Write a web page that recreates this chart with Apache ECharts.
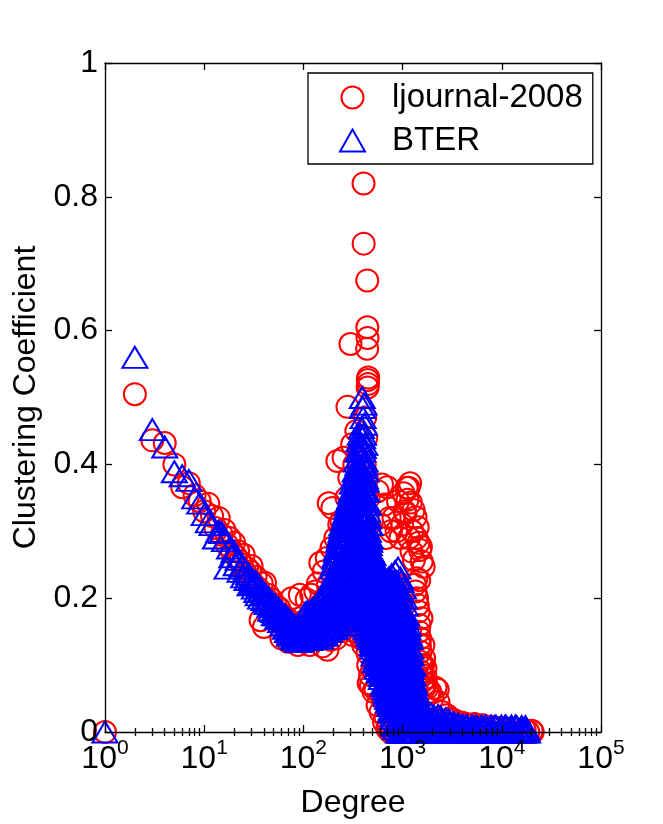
<!DOCTYPE html>
<html><head><meta charset="utf-8">
<script src="https://cdn.jsdelivr.net/npm/echarts@6/dist/echarts.min.js"></script>
<style>html,body{margin:0;padding:0;background:#fff}#c{width:663px;height:824px}</style>
</head><body><div id="c"></div>
<script>
// ---------------- data: [degree, clustering coefficient] ----------------
const ljLeft = [[1,0],[2,0.505],[3,0.436],[4,0.432],[5,0.4],[6,0.366],[7,0.372],[8,0.354],[9,0.345],[10,0.33],[11,0.341],[12,0.323],[13,0.305],[14,0.32],[15,0.295],[16,0.302],[17,0.28],[18,0.29],[19,0.27],[20,0.283],[21,0.262],[22,0.27],[23,0.255],[24,0.25],[25,0.265],[26,0.238],[27,0.245],[28,0.23],[29,0.24],[30,0.248],[31,0.222],[33,0.232],[35,0.215],[37,0.167],[38,0.222],[40,0.157],[41,0.223],[42,0.2],[44,0.205],[46,0.19],[48,0.198],[50,0.183],[52,0.19],[55,0.178],[57,0.185],[60,0.14],[62,0.175],[65,0.165],[68,0.17],[70,0.135],[73,0.16],[76,0.2],[80,0.15],[84,0.158],[88,0.13],[92,0.205],[96,0.148],[100,0.165]];
const ljRising = [[104,0.15],[108,0.198],[112,0.16],[116,0.13],[120,0.205],[124,0.17],[128,0.15],[132,0.21],[136,0.175],[140,0.222],[144,0.14],[148,0.253],[152,0.19],[156,0.128],[160,0.24],[164,0.2],[168,0.165],[172,0.26],[175,0.123],[176,0.22],[180,0.342],[184,0.185],[188,0.138],[190,0.15],[192,0.275],[196,0.335],[200,0.23],[205,0.165],[210,0.29],[215,0.14],[218,0.25],[220,0.405],[225,0.2],[230,0.31],[236,0.164],[242,0.315],[248,0.27],[250,0.16],[254,0.41],[260,0.22],[266,0.155],[272,0.35],[278,0.486],[280,0.17],[284,0.3],[290,0.38],[298,0.58],[300,0.152],[304,0.26],[310,0.43],[314,0.145],[318,0.33],[322,0.16],[326,0.4],[334,0.165],[340,0.17],[342,0.45],[350,0.148],[352,0.37],[366,0.42],[374,0.3],[380,0.14]];
const ljPeak = [[404,0.82],[405,0.73],[440,0.675],[441,0.605],[443,0.589],[439,0.573],[446,0.526],[448,0.52],[444,0.515],[450,0.53],[420,0.47],[430,0.44],[415,0.4],[435,0.38],[455,0.35],[460,0.3],[400,0.13],[423,0.148],[443,0.118],[455,0.073],[497,0.093],[534,0.063],[630,0.048],[673,0.022],[720,0.01],[790,0],[850,0],[940,0]];
const ljLowerEdge = [[430,0.135],[450,0.1],[470,0.085],[480,0.07],[510,0.06],[560,0.04],[600,0.03],[650,0.015],[700,0.005],[750,0]];
const ljShoulder = [[560,0.36],[600,0.31],[620,0.37],[660,0.34],[680,0.29],[700,0.366],[740,0.32],[760,0.3],[810,0.32],[870,0.3],[900,0.345],[950,0.29]];
const ljCluster = [[990,0.31],[1020,0.357],[1050,0.33],[1070,0.327],[1100,0.365],[1120,0.347],[1150,0.365],[1160,0.29],[1190,0.372],[1210,0.343],[1230,0.27],[1250,0.3],[1290,0.332],[1300,0.257],[1350,0.321],[1380,0.29],[1420,0.306],[1450,0.283],[1470,0.227],[1500,0.272],[1530,0.277],[1560,0.255],[1630,0.247]];
const ljRightEdge = [[1400,0.2],[1450,0.18],[1480,0.16],[1500,0.14],[1520,0.12],[1550,0.17],[1560,0.1],[1600,0.085],[1620,0.13],[1650,0.11],[1680,0.072],[1700,0.095],[1780,0.066],[1900,0.06],[2000,0.05],[2150,0.066],[2260,0.063],[2300,0.045],[1420,0.19],[1460,0.15],[1490,0.13],[1510,0.105],[1540,0.09],[1580,0.075],[1610,0.1],[1640,0.065],[1720,0.08],[1820,0.058],[1350,0.21],[1380,0.23],[1330,0.22]];
const ljTail = [[2500,0.03],[2800,0.025],[3000,0.02],[3300,0.018],[3600,0.015],[4000,0.014],[4400,0.012],[4800,0.01],[5300,0.012],[5800,0.008],[6400,0.01],[7000,0.006],[7700,0.008],[8500,0.004],[9400,0.006],[10400,0.002],[11500,0.005],[12700,0],[14000,0.004],[15500,0],[17000,0.003],[18500,0],[20000,0.002],[20500,0]];
const ljInterior = [[520,0.2],[570,0.15],[640,0.12],[720,0.17],[800,0.09],[880,0.14],[960,0.06],[1040,0.1],[1120,0.04],[1190,0.15],[1260,0.07],[1330,0.02],[450,0.25],[380,0.28],[330,0.22],[300,0.26],[260,0.19],[230,0.21],[1000,0.2],[850,0.22],[760,0.05],[600,0.18]];

const bterLeft = [[1,0],[2,0.56],[3,0.452],[4,0.426],[5,0.389],[6,0.383],[7,0.376],[8,0.35],[9,0.342],[10,0.325],[11,0.314],[12,0.31],[13,0.29],[14,0.3],[15,0.298],[16,0.286],[17,0.245],[18,0.275],[19,0.262],[20,0.27],[21,0.25],[22,0.258],[23,0.24],[24,0.248],[25,0.232],[26,0.24],[27,0.228],[28,0.236],[29,0.22],[30,0.23],[32,0.215],[33,0.225],[34,0.21],[36,0.218],[37,0.2],[38,0.212],[40,0.198],[41,0.207],[43,0.192],[44,0.2],[46,0.188],[48,0.195],[50,0.18],[52,0.19],[54,0.175],[56,0.185],[58,0.17],[60,0.18],[63,0.165],[65,0.175],[68,0.158],[70,0.17],[73,0.152],[75,0.165],[78,0.148],[80,0.16],[83,0.142],[86,0.155],[88,0.135],[90,0.15],[93,0.138],[96,0.152]];
const bterLeft2 = [[31,0.222],[35,0.205],[39,0.205],[42,0.195],[45,0.2],[47,0.182],[49,0.19],[51,0.175],[53,0.183],[55,0.17],[57,0.178],[59,0.165],[61,0.172],[62,0.16],[64,0.17],[66,0.155],[67,0.168],[69,0.15],[71,0.162],[72,0.145],[74,0.158],[76,0.145],[77,0.16],[79,0.14],[81,0.152],[82,0.138],[84,0.158],[85,0.145],[87,0.15],[89,0.14],[91,0.16],[92,0.142],[94,0.15],[95,0.136]];
const bterRising = [[97,0.145],[99,0.172],[101,0.158],[103,0.14],[105,0.178],[107,0.15],[109,0.165],[111,0.142],[113,0.175],[115,0.155],[118,0.18],[120,0.14],[122,0.165],[125,0.148],[128,0.182],[131,0.158],[134,0.142],[137,0.175],[140,0.188],[143,0.15],[146,0.168],[149,0.145],[152,0.192],[155,0.16],[158,0.178],[161,0.148],[164,0.2],[167,0.165],[170,0.185],[173,0.152],[176,0.21],[179,0.172],[182,0.195],[185,0.155],[188,0.22],[191,0.178],[194,0.2],[197,0.245],[200,0.16],[203,0.215],[206,0.26],[209,0.185],[212,0.165],[215,0.27],[218,0.275],[221,0.2],[224,0.175],[227,0.285],[230,0.215],[233,0.16],[236,0.295],[239,0.3],[242,0.19],[245,0.31],[248,0.225],[251,0.168],[254,0.26],[257,0.318],[260,0.2],[263,0.325],[266,0.245],[269,0.175],[272,0.28],[275,0.335],[278,0.22],[281,0.34],[284,0.26],[287,0.185],[290,0.3],[293,0.35],[296,0.235],[299,0.358],[302,0.275],[305,0.19],[308,0.32],[311,0.372],[314,0.25],[317,0.3],[320,0.38],[323,0.205],[326,0.345],[329,0.27],[332,0.39],[335,0.185],[338,0.31],[341,0.405],[344,0.23],[347,0.355],[350,0.28],[353,0.42],[356,0.2],[359,0.33],[362,0.435],[365,0.255],[368,0.375],[371,0.175],[374,0.445],[377,0.3],[380,0.395]];
const bterRising2 = [[98,0.16],[100,0.138],[102,0.175],[104,0.152],[106,0.165],[108,0.14],[110,0.18],[112,0.158],[114,0.145],[116,0.17],[117,0.138],[119,0.16],[121,0.175],[123,0.145],[124,0.185],[126,0.16],[127,0.14],[129,0.17],[130,0.15],[132,0.185],[133,0.162],[135,0.148],[136,0.19],[138,0.158],[139,0.17],[141,0.145],[142,0.165],[144,0.18],[145,0.155],[147,0.195],[148,0.14],[150,0.17],[151,0.155],[153,0.18],[154,0.145],[156,0.2],[157,0.165],[159,0.15],[160,0.188],[162,0.17],[163,0.155],[165,0.21],[166,0.145],[168,0.18],[169,0.195],[171,0.16],[172,0.215],[174,0.17],[175,0.15],[177,0.19],[178,0.2],[180,0.158],[181,0.22],[183,0.175],[184,0.15],[186,0.2],[187,0.165],[189,0.185],[190,0.155],[192,0.22],[193,0.17],[195,0.23],[196,0.185],[198,0.155],[199,0.21],[201,0.25],[202,0.19],[204,0.17],[205,0.235],[207,0.2],[208,0.255],[210,0.155],[211,0.225],[213,0.265],[214,0.19],[216,0.205],[217,0.16],[219,0.24],[220,0.275],[222,0.185],[223,0.25],[225,0.215],[226,0.165],[228,0.27],[229,0.195],[231,0.29],[232,0.24],[234,0.18],[235,0.265],[237,0.21],[238,0.16],[240,0.285],[241,0.23],[243,0.305],[244,0.175],[246,0.25],[247,0.2],[249,0.295],[250,0.165],[252,0.24],[253,0.31],[255,0.185],[256,0.275],[258,0.215],[259,0.17],[261,0.3],[262,0.25],[264,0.19],[265,0.32],[267,0.225],[268,0.285],[270,0.2],[271,0.33],[273,0.255],[274,0.175],[276,0.305],[277,0.24],[279,0.19],[280,0.335],[282,0.21],[283,0.29],[285,0.345],[286,0.225],[288,0.265],[289,0.18],[291,0.325],[292,0.245],[294,0.205],[295,0.31],[297,0.35],[298,0.185],[300,0.33],[301,0.215],[303,0.255],[304,0.36],[306,0.22],[307,0.345],[309,0.28],[310,0.185],[312,0.235],[313,0.355],[315,0.2],[316,0.325],[318,0.265],[319,0.19],[321,0.35],[322,0.29],[324,0.235],[325,0.375],[327,0.195],[328,0.31],[330,0.37],[331,0.22],[333,0.29],[334,0.34],[336,0.245],[337,0.38],[339,0.2],[340,0.36],[342,0.265],[343,0.39],[345,0.19],[346,0.3],[348,0.245],[349,0.395],[351,0.215],[352,0.34],[354,0.27],[355,0.4],[357,0.18],[358,0.365],[360,0.235],[361,0.31],[363,0.41],[364,0.2],[366,0.285],[367,0.345],[369,0.22],[370,0.42],[372,0.26],[373,0.375],[375,0.19],[376,0.33],[378,0.24],[379,0.43],[381,0.27]];
const bterPeak = [[383,0.22],[384,0.35],[385,0.39],[386,0.455],[387,0.18],[389,0.35],[390,0.41],[391,0.3],[392,0.5],[393,0.24],[394,0.27],[395,0.205],[396,0.485],[397,0.33],[398,0.42],[399,0.255],[400,0.47],[401,0.375],[402,0.19],[403,0.365],[404,0.445],[405,0.29],[406,0.32],[407,0.215],[408,0.49],[409,0.17],[410,0.38],[411,0.285],[412,0.46],[413,0.4],[414,0.24],[415,0.395],[416,0.43],[417,0.265],[418,0.34],[419,0.225],[420,0.405],[421,0.31],[422,0.17],[423,0.31],[424,0.36],[425,0.2]];
const bterPeak2 = [[383.5,0.28],[384.5,0.195],[385.5,0.325],[386.5,0.245],[388,0.43],[388.5,0.21],[389.5,0.285],[390.5,0.19],[391.5,0.37],[392.5,0.23],[393.5,0.33],[394.5,0.44],[395.5,0.3],[396.5,0.185],[397.5,0.26],[398.5,0.35],[399.5,0.4],[400.5,0.22],[401.5,0.31],[402.5,0.425],[403.5,0.245],[404.5,0.2],[405.5,0.38],[406.5,0.275],[407.5,0.36],[408.5,0.23],[409.5,0.3],[410.5,0.18],[411.5,0.345],[412.5,0.25],[413.5,0.2],[414.5,0.32],[415.5,0.275],[416.5,0.19],[417.5,0.36],[418.5,0.25],[419.5,0.3],[420.5,0.2],[421.5,0.38],[422.5,0.27],[423.5,0.235],[424.5,0.18]];
const bterShoulder = [[426,0.155],[428,0.39],[429,0.375],[431,0.215],[432,0.29],[434,0.36],[435,0.2],[437,0.265],[438,0.345],[440,0.17],[441,0.25],[443,0.32],[444,0.15],[446,0.225],[447,0.33],[449,0.28],[450,0.175],[452,0.34],[453,0.3],[455,0.19],[456,0.225],[458,0.255],[459,0.145],[461,0.31],[462,0.28],[464,0.16],[466,0.195],[468,0.235],[470,0.31],[472,0.14],[474,0.245],[476,0.27],[478,0.14],[480,0.2],[482,0.27],[484,0.16],[486,0.17],[488,0.23],[490,0.225],[492,0.26],[494,0.13],[496,0.185],[498,0.26],[500,0.21],[502,0.195],[504,0.14],[506,0.15],[508,0.245],[510,0.24],[512,0.175],[514,0.115],[516,0.225],[518,0.21],[520,0.135],[427,0.3],[430,0.25],[433,0.18],[436,0.32],[439,0.215],[442,0.29],[445,0.19],[448,0.255],[451,0.21],[454,0.32],[457,0.17],[460,0.235],[463,0.26],[465,0.15],[467,0.285],[469,0.205],[471,0.25],[473,0.18],[475,0.215],[477,0.155],[479,0.255],[481,0.19],[483,0.235],[485,0.14],[487,0.25],[489,0.165],[491,0.195],[493,0.24],[495,0.155],[497,0.215],[499,0.135],[501,0.25],[503,0.17],[505,0.225],[507,0.125],[509,0.19],[511,0.155],[513,0.255],[515,0.2],[517,0.14],[519,0.245]];
const bterShoulder2 = [[425.5,0.26],[428.5,0.185],[431.5,0.34],[434.5,0.24],[437.5,0.16],[440.5,0.3],[443.5,0.205],[446.5,0.27],[449.5,0.16],[452.5,0.235],[455.5,0.29],[458.5,0.2],[461.5,0.175],[464.5,0.27],[467.5,0.15],[470.5,0.22],[473.5,0.29],[476.5,0.185],[479.5,0.23],[482.5,0.145],[485.5,0.21],[488.5,0.265],[491.5,0.145],[494.5,0.2],[497.5,0.24],[500.5,0.16],[503.5,0.265],[506.5,0.185],[509.5,0.13],[512.5,0.22],[515.5,0.165],[518.5,0.255]];
const bterValley = [[523,0.175],[526,0.12],[528,0.25],[531,0.2],[533,0.105],[536,0.23],[538,0.14],[541,0.165],[543,0.225],[546,0.11],[548,0.19],[551,0.25],[553,0.095],[556,0.15],[558,0.245],[561,0.2],[563,0.16],[566,0.22],[568,0.125],[571,0.1],[574,0.21],[577,0.175],[580,0.09],[583,0.14],[586,0.235],[589,0.115],[592,0.17],[595,0.215],[598,0.135],[601,0.09],[604,0.2],[607,0.155],[610,0.08],[613,0.12],[616,0.225],[619,0.185],[622,0.15],[625,0.095],[628,0.105],[631,0.21],[634,0.185],[637,0.13],[640,0.07],[644,0.16],[647,0.22],[650,0.09],[654,0.125],[657,0.195],[661,0.165],[664,0.07],[668,0.09],[671,0.145],[675,0.2],[678,0.11],[682,0.06],[685,0.175],[689,0.225],[692,0.08],[696,0.14],[699,0.19],[703,0.105],[706,0.06],[710,0.18],[714,0.125],[718,0.05],[722,0.155],[726,0.23],[730,0.095],[734,0.12],[738,0.2],[742,0.075],[746,0.04],[750,0.2],[754,0.11],[758,0.155],[762,0.065],[766,0.04],[770,0.215],[775,0.235],[780,0.135],[784,0.09],[788,0.03],[793,0.175],[797,0.115],[802,0.025],[806,0.2],[811,0.215],[815,0.05],[820,0.13],[825,0.155],[830,0.06],[835,0.09],[840,0.24],[845,0.185]];
const bterValley2 = [[521,0.24],[524,0.15],[527,0.205],[529,0.13],[532,0.16],[534,0.25],[537,0.185],[539,0.12],[542,0.2],[544,0.145],[547,0.24],[549,0.13],[552,0.175],[554,0.215],[557,0.11],[559,0.185],[562,0.14],[564,0.24],[567,0.17],[569,0.2],[572,0.145],[575,0.24],[578,0.115],[581,0.19],[584,0.16],[587,0.1],[590,0.21],[593,0.135],[596,0.185],[599,0.23],[602,0.115],[605,0.165],[608,0.215],[611,0.14],[614,0.1],[617,0.175],[620,0.2],[623,0.125],[626,0.225],[629,0.16],[632,0.085],[635,0.14],[638,0.2],[641,0.11],[645,0.185],[648,0.145],[652,0.105],[655,0.21],[659,0.13],[662,0.18],[666,0.1],[669,0.215],[673,0.125],[676,0.155],[680,0.085],[683,0.2],[687,0.12],[690,0.165],[694,0.07],[697,0.21],[701,0.13],[704,0.155],[708,0.085],[712,0.2],[716,0.1],[720,0.065],[724,0.175],[728,0.14],[732,0.055],[736,0.215],[740,0.1],[744,0.16],[748,0.06],[752,0.135],[756,0.225],[760,0.085],[764,0.185],[768,0.115],[772,0.05],[777,0.16],[782,0.2],[786,0.06],[791,0.13],[795,0.225],[799,0.075],[804,0.15],[808,0.04],[813,0.105],[817,0.19],[822,0.03],[827,0.225],[832,0.11],[837,0.165],[842,0.04],[847,0.13]];
const bterValley3 = [[560,0.13],[565,0.105],[570,0.16],[576,0.12],[579,0.15],[582,0.105],[585,0.125],[588,0.18],[591,0.1],[594,0.155],[597,0.11],[600,0.125],[603,0.145],[606,0.1],[609,0.13],[612,0.17],[615,0.085],[618,0.14],[621,0.105],[624,0.165],[627,0.12],[630,0.09],[633,0.15],[636,0.11],[639,0.175],[642,0.085],[646,0.12],[649,0.07],[653,0.15],[656,0.1],[660,0.075],[663,0.135],[667,0.115],[670,0.065],[674,0.16],[677,0.09],[681,0.13],[684,0.055],[688,0.1],[691,0.145],[695,0.06],[698,0.115],[702,0.09],[705,0.17],[709,0.05],[713,0.14],[717,0.075],[721,0.11],[725,0.045],[729,0.165],[733,0.085],[737,0.135],[741,0.045],[745,0.1],[749,0.17],[753,0.05],[757,0.13],[761,0.03],[765,0.1],[769,0.145],[774,0.06],[778,0.035],[783,0.115],[787,0.17],[792,0.05],[796,0.02],[801,0.14],[805,0.085],[810,0.02],[814,0.165],[819,0.07],[824,0.01],[829,0.12],[834,0.03],[839,0.2],[844,0.07],[848,0.01]];
const bterSecond = [[850,0.005],[860,0.155],[870,0.1],[880,0.2],[890,0.03],[900,0.245],[910,0.125],[920,0.07],[930,0.18],[940,0.01],[950,0.23],[960,0.145],[970,0.045],[980,0.2],[990,0.09],[1000,0],[1010,0.165],[1020,0.215],[1030,0.06],[1040,0.12],[1050,0.02],[1060,0.19],[1070,0.08],[1080,0.145],[1090,0.005],[1100,0.175],[1110,0.04],[1120,0.11],[1130,0.155],[1140,0.065],[1150,0],[1160,0.13],[1170,0.03],[1180,0.095],[1190,0.14],[1200,0.05],[1210,0.01],[1220,0.115],[1230,0.075],[1240,0],[1250,0.1],[1265,0.035],[1280,0.085],[1295,0.01],[1310,0.065],[1325,0.04],[1340,0],[1355,0.055],[1370,0.02],[1385,0.045],[1400,0.005]];
const bterSecond2 = [[855,0.08],[865,0.225],[875,0.05],[885,0.17],[895,0.11],[905,0.02],[915,0.215],[925,0.1],[935,0.035],[945,0.165],[955,0.075],[965,0.225],[975,0.12],[985,0.015],[995,0.155],[1005,0.05],[1015,0.1],[1025,0.18],[1035,0.03],[1045,0.2],[1055,0.135],[1065,0.05],[1075,0.17],[1085,0.1],[1095,0.025],[1105,0.14],[1115,0.075],[1125,0.01],[1135,0.12],[1145,0.16],[1155,0.05],[1165,0.09],[1175,0.145],[1185,0.015],[1195,0.06],[1205,0.125],[1215,0.035],[1225,0.09],[1235,0.02],[1245,0.07],[1258,0.05],[1272,0.1],[1288,0.025],[1302,0.075],[1318,0.005],[1332,0.06],[1348,0.035],[1362,0.01],[1378,0.06],[1392,0.025]];
const bterSecond3 = [[852,0.04],[858,0.12],[863,0.015],[868,0.19],[873,0.135],[878,0.065],[883,0.01],[888,0.155],[893,0.09],[898,0.045],[903,0.2],[908,0],[913,0.16],[918,0.11],[923,0.04],[928,0.135],[933,0.065],[938,0.21],[943,0],[948,0.1],[953,0.185],[958,0.03],[963,0.12],[968,0.075],[973,0.165],[978,0],[983,0.135],[988,0.055],[993,0.185],[998,0.11],[1003,0.03],[1008,0.135],[1013,0.075],[1018,0],[1023,0.15],[1028,0.1],[1033,0.04],[1038,0.175],[1043,0.07],[1048,0],[1053,0.115],[1058,0.155],[1063,0.03],[1068,0.1],[1073,0.135],[1078,0],[1083,0.06],[1088,0.12],[1093,0.09],[1098,0.035],[1103,0.155],[1108,0],[1113,0.1],[1118,0.055],[1123,0.14],[1128,0.02],[1133,0.085],[1138,0.12],[1143,0],[1148,0.1],[1153,0.03],[1158,0.07],[1163,0.115],[1168,0],[1173,0.06],[1178,0.12],[1183,0.04],[1188,0.08],[1193,0],[1198,0.1],[1203,0.03],[1208,0.07],[1213,0.095],[1218,0],[1223,0.05],[1228,0.1],[1238,0.04],[1248,0],[1255,0.08],[1262,0.015],[1270,0.06],[1276,0],[1284,0.05],[1292,0.075],[1300,0.02],[1306,0.045],[1314,0],[1322,0.07],[1330,0.025],[1338,0.05],[1345,0],[1352,0.03],[1360,0.045],[1366,0],[1375,0.035],[1382,0.01],[1390,0.045],[1397,0]];
const bterTail = [[1430,0.035],[1460,0.015],[1500,0.03],[1540,0],[1580,0.025],[1630,0.01],[1680,0.03],[1740,0],[1800,0.022],[1870,0.008],[1940,0.027],[2020,0],[2100,0.02],[2190,0.01],[2280,0.025],[2380,0],[2480,0.018],[2600,0.008],[2720,0.02],[2850,0],[3000,0.015],[3150,0.005],[3300,0.014],[3480,0],[3650,0.012],[3850,0.004],[4050,0.01],[4280,0],[4500,0.009],[4750,0.003],[5000,0.009],[5300,0],[5600,0.008],[5900,0.002],[6250,0.009],[6600,0],[7000,0.008],[7400,0.003],[7800,0.009],[8300,0],[8800,0.008],[9300,0.002],[9900,0.009],[10500,0],[11100,0.008],[11800,0.003],[12500,0.009],[13300,0],[14100,0.008],[15000,0.002],[15900,0.008],[16900,0],[17800,0.004]];
const bterTail2 = [[1445,0.005],[1480,0.022],[1520,0.01],[1560,0.03],[1605,0.005],[1655,0.02],[1710,0.012],[1770,0.025],[1835,0.004],[1905,0.018],[1980,0.01],[2060,0.024],[2145,0.004],[2235,0.016],[2330,0.01],[2430,0.022],[2540,0.004],[2660,0.014],[2790,0.01],[2920,0.018],[3080,0],[3230,0.01],[3390,0.006],[3560,0.01],[3750,0],[3950,0.008],[4160,0.005],[4390,0.009],[4620,0],[4870,0.006],[5150,0.004],[5450,0.009],[5750,0.005],[6080,0],[6420,0.005],[6800,0.009],[7200,0],[7600,0.006],[8050,0.004],[8550,0.009],[9050,0],[9600,0.005],[10200,0.003],[10800,0.009],[11450,0],[12150,0.006],[12900,0.004],[13700,0.009],[14550,0],[15450,0.005],[16400,0.003],[17300,0.008],[18200,0]];

const seriesNames = ['ljournal-2008', 'BTER'];
const xTickExponents = ['0','1','2','3','4','5'];
const yTicks = [0, 0.2, 0.4, 0.6, 0.8, 1];
const xTitle = 'Degree';
const yTitle = 'Clustering Coefficient';

// --------------- chart ---------------
const ljData = [].concat(ljLeft, ljRising, ljPeak, ljLowerEdge, ljShoulder, ljCluster, ljRightEdge, ljTail, ljInterior);
const bterData = [].concat(bterLeft, bterLeft2, bterRising, bterRising2, bterPeak, bterPeak2, bterShoulder, bterShoulder2,
  bterValley, bterValley2, bterValley3, bterSecond, bterSecond2, bterSecond3, bterTail, bterTail2);

const FONT = '"Liberation Sans", Arial, Helvetica, sans-serif';
const BLACK = '#000';
const lineSt = {color: BLACK, width: 1.3};
const minorExp = [];
for (let k = 0; k < 5; k++) for (let m = 2; m <= 9; m++) minorExp.push(k + Math.log10(m));

const chart = echarts.init(document.getElementById('c'), null, {renderer: 'canvas'});
const baseLog = {type: 'log', logBase: 10, min: 1, max: 100000, z: 10, splitLine: {show: false},
  axisLine: {show: true, onZero: false, lineStyle: lineSt},
  axisTick: {show: true, inside: true, length: 7, lineStyle: lineSt}};
const minorAx = {type: 'value', min: 0, max: 5, z: 10, splitLine: {show: false}, axisLine: {show: false},
  axisLabel: {show: false}, axisTick: {show: true, inside: true, length: 4, customValues: minorExp, lineStyle: lineSt}};

chart.setOption({
  animation: false,
  backgroundColor: '#fff',
  grid: {left: 105, right: 62, top: 63, bottom: 92},
  legend: {
    data: seriesNames, orient: 'vertical', left: 308, top: 73, padding: [8, 10, 7, 31],
    borderColor: BLACK, borderWidth: 1.3, itemWidth: 25, itemHeight: 22, itemGap: 10,
    selectedMode: false,
    textStyle: {fontSize: 33, fontFamily: FONT, color: BLACK, padding: [0, 0, 0, 22]}
  },
  xAxis: [
    Object.assign({}, baseLog, {position: 'bottom',
      name: xTitle, nameLocation: 'middle', nameGap: 55,
      nameTextStyle: {fontSize: 32, fontFamily: FONT, color: BLACK},
      axisLabel: {margin: 6, color: BLACK,
        formatter: v => '{b|10}{s|' + xTickExponents[Math.round(Math.log10(v))] + '}',
        rich: {b: {fontSize: 32, fontFamily: FONT, color: BLACK, lineHeight: 32, padding: [10, 0, 0, 0]},
               s: {fontSize: 21, fontFamily: FONT, color: BLACK, lineHeight: 21, verticalAlign: 'top'}}}}),
    Object.assign({}, baseLog, {position: 'top', axisLabel: {show: false}}),
    Object.assign({}, minorAx, {position: 'bottom'}),
    Object.assign({}, minorAx, {position: 'top'})
  ],
  yAxis: [
    {type: 'value', min: 0, max: 1, interval: 0.2, position: 'left', z: 10, splitLine: {show: false},
     axisLine: {show: true, onZero: false, lineStyle: lineSt},
     axisTick: {show: true, inside: true, length: 7, lineStyle: lineSt},
     axisLabel: {margin: 7, fontSize: 32, fontFamily: FONT, color: BLACK,
       formatter: v => String(yTicks[Math.round(v / 0.2)])},
     name: yTitle, nameLocation: 'middle', nameGap: 63,
     nameTextStyle: {fontSize: 32, fontFamily: FONT, color: BLACK}},
    {type: 'value', min: 0, max: 1, interval: 0.2, position: 'right', z: 10, splitLine: {show: false},
     axisLine: {show: true, onZero: false, lineStyle: lineSt},
     axisTick: {show: true, inside: true, length: 7, lineStyle: lineSt},
     axisLabel: {show: false}}
  ],
  series: [
    {name: seriesNames[0], type: 'scatter', xAxisIndex: 0, yAxisIndex: 0, data: ljData,
     symbol: 'circle', symbolSize: 22, clip: false, silent: true, z: 2,
     itemStyle: {color: 'rgba(0,0,0,0)', borderColor: '#ff0000', borderWidth: 2, opacity: 1}},
    {name: seriesNames[1], type: 'scatter', xAxisIndex: 0, yAxisIndex: 0, data: bterData,
     symbol: 'triangle', symbolSize: [25, 21], clip: false, silent: true, z: 3,
     itemStyle: {color: 'rgba(0,0,0,0)', borderColor: '#0000ff', borderWidth: 2, opacity: 1}}
  ]
});
</script></body></html>
